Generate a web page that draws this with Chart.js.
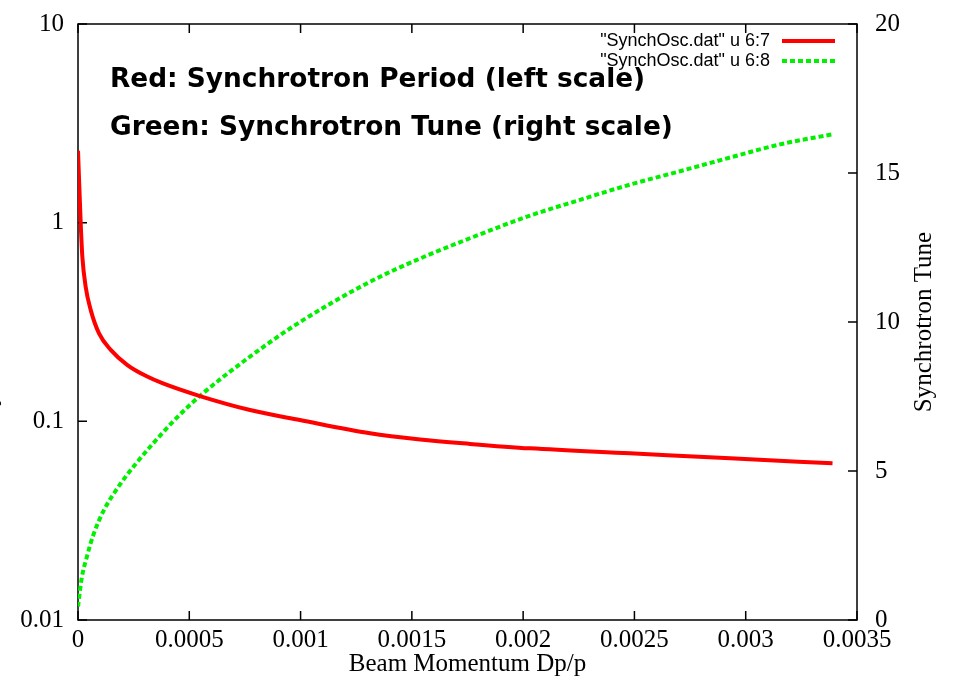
<!DOCTYPE html>
<html>
<head>
<meta charset="utf-8">
<script src="https://cdn.jsdelivr.net/npm/chart.js@4"></script>
<style>
  body { margin: 0; background: #fff; }
  canvas { display: block; }
</style>
</head>
<body>
<canvas id="myChart" width="955" height="681"></canvas>
<script>
  // Synchrotron period (left, log scale)
  const periodX = [0, 0.000012, 0.0000195, 0.0000344, 0.000057, 0.0000944, 0.000147, 0.000222,
    0.000311, 0.000379, 0.000548, 0.000773, 0.000997, 0.001312, 0.001537, 0.001761, 0.002031,
    0.00248, 0.00293, 0.00339];
  const periodY = [2.3, 1.0, 0.674, 0.476, 0.364, 0.277, 0.229, 0.192,
    0.168, 0.1556, 0.134, 0.114, 0.1015, 0.087, 0.081, 0.077, 0.0731,
    0.069, 0.0651, 0.0615];

  // Synchrotron tune (right, linear scale)
  const tuneX = [0, 0.0000166, 0.000039, 0.0000687, 0.000114, 0.000189, 0.000264, 0.000338,
    0.000443, 0.000548, 0.000773, 0.000983, 0.001312, 0.001537, 0.001761, 0.002031, 0.002256,
    0.00248, 0.002705, 0.00293, 0.003154, 0.00339];
  const tuneY = [0.45, 1.4, 2.1, 2.85, 3.65, 4.55, 5.28, 5.93,
    6.78, 7.52, 8.84, 9.93, 11.35, 12.13, 12.81, 13.57, 14.1,
    14.61, 15.06, 15.52, 15.96, 16.3];

  const xTicks = ['0', '0.0005', '0.001', '0.0015', '0.002', '0.0025', '0.003', '0.0035'];
  const leftTicks = [0.01, 0.1, 1, 10];
  const leftTickLabels = ['0.01', '0.1', '1', '10'];
  const rightTicks = ['0', '5', '10', '15', '20'];

  const seriesLabels = ['"SynchOsc.dat" u 6:7', '"SynchOsc.dat" u 6:8'];
  const notes = ['Red: Synchrotron Period (left scale)', 'Green: Synchrotron Tune (right scale)'];

  const serif = '"Liberation Serif", "Times New Roman", serif';
  Chart.defaults.font.family = serif;
  Chart.defaults.font.size = 25;
  Chart.defaults.color = '#000';

  // gnuplot style box, inward ticks, notes, legend and y titles
  const gnuplotFrame = {
    id: 'gnuplotFrame',
    beforeDatasetsDraw(chart) {
      const { ctx, chartArea: a, scales } = chart;
      const tl = 9;
      ctx.save();
      ctx.strokeStyle = '#000';
      ctx.lineWidth = 1.5;
      ctx.strokeRect(a.left, a.top, a.right - a.left, a.bottom - a.top);
      ctx.beginPath();
      scales.x.ticks.forEach(t => {
        const px = scales.x.getPixelForValue(t.value);
        ctx.moveTo(px, a.bottom); ctx.lineTo(px, a.bottom - tl);
        ctx.moveTo(px, a.top); ctx.lineTo(px, a.top + tl);
      });
      scales.y.ticks.forEach(t => {
        const py = scales.y.getPixelForValue(t.value);
        ctx.moveTo(a.left, py); ctx.lineTo(a.left + tl, py);
      });
      scales.y2.ticks.forEach(t => {
        const py = scales.y2.getPixelForValue(t.value);
        ctx.moveTo(a.right, py); ctx.lineTo(a.right - tl, py);
      });
      ctx.stroke();
      ctx.restore();
    },
    afterDraw(chart) {
      const { ctx, chartArea: a } = chart;
      ctx.save();

      // notes in the plot
      ctx.fillStyle = '#000';
      ctx.textAlign = 'left';
      ctx.textBaseline = 'alphabetic';
      const noteFont = '"Comic Sans MS", "DejaVu Sans", sans-serif';
      ctx.font = 'bold 24px ' + noteFont;
      const size = 24 * 535 / ctx.measureText(notes[0]).width;
      ctx.font = 'bold ' + size.toFixed(1) + 'px ' + noteFont;
      ctx.fillText(notes[0], a.left + 32, a.top + 63);
      ctx.fillText(notes[1], a.left + 32, a.top + 111);

      // legend, text left of the sample line
      ctx.font = '18px "Liberation Sans", Arial, sans-serif';
      ctx.textAlign = 'right';
      ctx.textBaseline = 'middle';
      chart.data.datasets.forEach((ds, i) => {
        const y = a.top + 17 + i * 20;
        ctx.fillStyle = '#000';
        ctx.fillText(ds.label, a.right - 87, y);
        ctx.strokeStyle = ds.borderColor;
        ctx.lineWidth = ds.borderWidth;
        ctx.setLineDash(ds.borderDash || []);
        ctx.beginPath();
        ctx.moveTo(a.right - 75, y);
        ctx.lineTo(a.right - 22, y);
        ctx.stroke();
      });
      ctx.setLineDash([]);

      // y titles, both reading bottom to top
      ctx.font = '25px ' + serif;
      ctx.fillStyle = '#000';
      ctx.textAlign = 'center';
      ctx.textBaseline = 'alphabetic';
      const midY = (a.top + a.bottom) / 2;
      ctx.save();
      ctx.translate(-4, midY);
      ctx.rotate(-Math.PI / 2);
      ctx.fillText('Synchrotron Period', 0, 0);
      ctx.restore();
      ctx.save();
      ctx.translate(931, midY);
      ctx.rotate(-Math.PI / 2);
      ctx.fillText('Synchrotron Tune', 0, 0);
      ctx.restore();

      ctx.restore();
    }
  };

  const fitY = w => s => {
    s.width = w;
    s.paddingTop = 8;
    s.paddingBottom = 8;
  };

  const ctx = document.getElementById('myChart').getContext('2d');

  const myChart = new Chart(ctx, {
    type: 'line',
    data: {
      datasets: [
        {
          label: seriesLabels[0],
          data: periodX.map((x, i) => ({ x: x, y: periodY[i] })),
          yAxisID: 'y',
          borderColor: '#ff0000',
          borderWidth: 4,
          cubicInterpolationMode: 'monotone',
          pointRadius: 0,
          fill: false
        },
        {
          label: seriesLabels[1],
          data: tuneX.map((x, i) => ({ x: x, y: tuneY[i] })),
          yAxisID: 'y2',
          borderColor: '#00f000',
          borderWidth: 4,
          borderDash: [5, 3],
          cubicInterpolationMode: 'monotone',
          pointRadius: 0,
          fill: false
        }
      ]
    },
    options: {
      responsive: false,
      animation: false,
      layout: { padding: { top: 24 } },
      plugins: {
        legend: { display: false },
        tooltip: { enabled: false }
      },
      scales: {
        x: {
          type: 'linear',
          min: 0,
          max: 0.0035,
          grid: { display: false, drawTicks: false },
          border: { display: false },
          ticks: {
            stepSize: 0.0005,
            autoSkip: false,
            maxRotation: 0,
            padding: 5,
            callback: (v, i) => xTicks[i]
          },
          title: {
            display: true,
            text: 'Beam Momentum Dp/p',
            padding: { top: 0, bottom: 2 }
          },
          afterFit: s => { s.height = 61; }
        },
        y: {
          type: 'logarithmic',
          position: 'left',
          min: 0.01,
          max: 10,
          grid: { display: false, drawTicks: false },
          border: { display: false },
          afterBuildTicks: s => { s.ticks = leftTicks.map(v => ({ value: v })); },
          ticks: {
            padding: 14,
            callback: (v, i) => leftTickLabels[i]
          },
          afterFit: fitY(78)
        },
        y2: {
          type: 'linear',
          position: 'right',
          min: 0,
          max: 20,
          grid: { display: false, drawTicks: false },
          border: { display: false },
          ticks: {
            stepSize: 5,
            padding: 18,
            callback: (v, i) => rightTicks[i]
          },
          afterFit: fitY(98)
        }
      }
    },
    plugins: [gnuplotFrame]
  });
</script>
</body>
</html>
